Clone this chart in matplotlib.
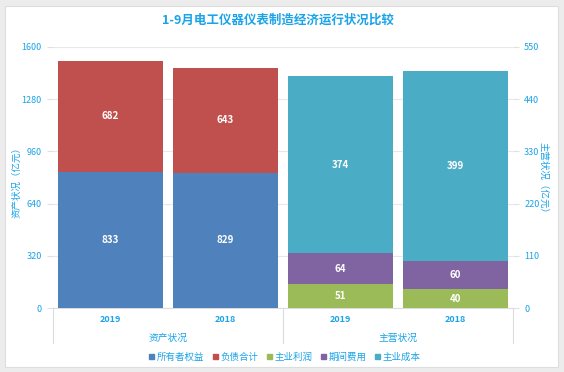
import matplotlib.pyplot as plt
from matplotlib.patches import Rectangle
from matplotlib.lines import Line2D

plt.rcParams["font.family"] = ["Noto Sans CJK SC", "DejaVu Sans"]
plt.rcParams["axes.unicode_minus"] = False

# 数据
years = ["2019", "2018", "2019", "2018"]
groups = ["资产状况", "主营状况"]
owner_equity = [833, 829]      # 所有者权益
liabilities = [682, 643]       # 负债合计
main_profit = [51, 40]         # 主业利润
period_cost = [64, 60]         # 期间费用
main_cost = [374, 399]         # 主业成本
left_ticks = [0, 320, 640, 960, 1280, 1600]
right_ticks = [0, 110, 220, 330, 440, 550]

c_blue = "#4f81bd"
c_red = "#c0504d"
c_green = "#9bbb59"
c_purple = "#8064a2"
c_teal = "#4bacc6"
txt = "#1aa3e8"
W, H = 564, 372

fig = plt.figure(figsize=(W / 100, H / 100), dpi=100)
fig.patch.set_facecolor("#ececec")
fig.add_artist(Rectangle((5 / W, 5 / H), 553 / W, 361 / H, transform=fig.transFigure,
                         facecolor="white", edgecolor="#dddddd", linewidth=0.8, zorder=-5))

ax = fig.add_axes([53 / W, 1 - 308 / H, 460 / W, 261 / H])
ax2 = ax.twinx()
ax.set_facecolor("none")

bw = 0.91
lab = dict(ha="center", va="center", color="white", fontsize=7, fontweight="bold", zorder=5)
xl = [0, 1]
ax.bar(xl, owner_equity, bw, color=c_blue, zorder=3)
ax.bar(xl, liabilities, bw, bottom=owner_equity, color=c_red, zorder=3)
for i in range(2):
    ax.text(xl[i], owner_equity[i] / 2, str(owner_equity[i]), **lab)
    ax.text(xl[i], owner_equity[i] + liabilities[i] / 2, str(liabilities[i]), **lab)

xr = [2, 3]
b2 = [main_profit[i] + period_cost[i] for i in range(2)]
ax2.bar(xr, main_profit, bw, color=c_green, zorder=3)
ax2.bar(xr, period_cost, bw, bottom=main_profit, color=c_purple, zorder=3)
ax2.bar(xr, main_cost, bw, bottom=b2, color=c_teal, zorder=3)
for i in range(2):
    ax2.text(xr[i], main_profit[i] / 2, str(main_profit[i]), **lab)
    ax2.text(xr[i], main_profit[i] + period_cost[i] / 2, str(period_cost[i]), **lab)
    ax2.text(xr[i], b2[i] + main_cost[i] / 2, str(main_cost[i]), **lab)

ax.set_xlim(-0.5, 3.5)
ax.set_ylim(0, 1600)
ax2.set_ylim(0, 550)
ax.set_yticks(left_ticks)
ax2.set_yticks(right_ticks)
ax.set_xticks([])
ax.grid(axis="y", color="#e8e8e8", linewidth=0.8, zorder=0)
ax.set_axisbelow(True)
for a in (ax, ax2):
    for s in a.spines.values():
        s.set_visible(False)
    a.tick_params(axis="y", length=4, color="#e0e0e0", labelcolor=txt, labelsize=6.5, pad=4)
ax.spines["bottom"].set_visible(True)
ax.spines["bottom"].set_color("#dcdcdc")

ax.set_ylabel("资产状况（亿元）", color=txt, fontsize=6.8)
ax2.set_ylabel("主营状况（亿元）", color=txt, fontsize=6.8, rotation=270)
ax.yaxis.set_label_coords(-0.078, 0.49)
ax2.yaxis.set_label_coords(1.065, 0.49)
ax.yaxis.label.set_va("center")
ax2.yaxis.label.set_va("center")

# 分类框
tr = ax.get_xaxis_transform()
for xv in [-0.5, 1.5, 3.5]:
    ax.add_line(Line2D([xv, xv], [0, -35 / 261], transform=tr, color="#dcdcdc",
                       linewidth=0.8, clip_on=False))
for i, y in enumerate(years):
    ax.text(i, -12 / 261, y, transform=tr, ha="center", va="center", color=txt,
            fontsize=6.5, fontweight="bold")
ax.text(0.5, -30 / 261, groups[0], transform=tr, ha="center", va="center", color=txt, fontsize=7)
ax.text(2.5, -30 / 261, groups[1], transform=tr, ha="center", va="center", color=txt, fontsize=7)

fig.text(0.493, 1 - 20 / H, "1-9月电工仪器仪表制造经济运行状况比较", ha="center", va="center",
         color=txt, fontsize=9, fontweight="bold")

names = ["所有者权益", "负债合计", "主业利润", "期间费用", "主业成本"]
cols = [c_blue, c_red, c_green, c_purple, c_teal]
handles = [Rectangle((0, 0), 1, 1, color=c) for c in cols]
leg = fig.legend(handles, names, loc="center", bbox_to_anchor=(0.505, 1 - 357 / H), ncol=5,
                 frameon=False, fontsize=6.8, handlelength=0.55, handleheight=0.55,
                 handletextpad=0.25, columnspacing=0.9, labelcolor=txt)

fig.savefig("out.png", dpi=100)
